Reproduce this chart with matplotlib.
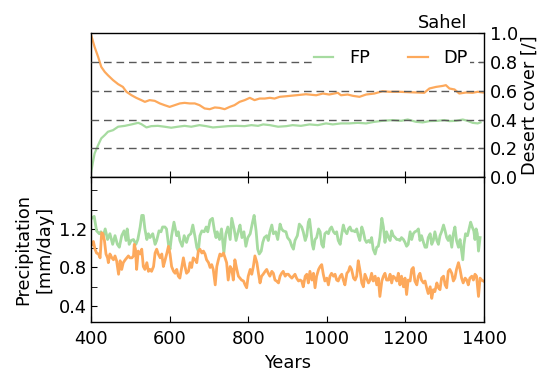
import numpy as np
import matplotlib
matplotlib.use("Agg")
import matplotlib.pyplot as plt
from matplotlib.ticker import FixedLocator

# ---------------- data ----------------
# Desert cover (top panel)
dp_cover_years = [400, 409, 418, 426, 435, 443, 456, 469, 481, 490, 503, 515, 528, 537, 549, 562,
                  575, 587, 600, 613, 626, 638, 651, 664, 676, 689, 702, 715, 727, 740, 753, 765,
                  778, 791, 804, 816, 829, 842, 855, 867, 880, 896, 922, 947, 973, 990, 1006,
                  1028, 1036, 1053, 1066, 1083, 1100, 1121, 1142, 1159, 1185, 1210, 1231, 1248,
                  1261, 1278, 1295, 1303, 1312, 1325, 1337, 1354, 1371, 1384, 1397]
dp_cover = [0.99, 0.905, 0.836, 0.766, 0.731, 0.708, 0.674, 0.646, 0.627, 0.593, 0.569, 0.551,
            0.535, 0.523, 0.535, 0.530, 0.512, 0.500, 0.488, 0.500, 0.512, 0.516, 0.512, 0.512,
            0.500, 0.477, 0.472, 0.484, 0.481, 0.472, 0.488, 0.500, 0.523, 0.535, 0.551, 0.535,
            0.546, 0.546, 0.551, 0.546, 0.558, 0.562, 0.569, 0.576, 0.569, 0.581, 0.574, 0.586,
            0.569, 0.574, 0.565, 0.558, 0.574, 0.581, 0.597, 0.593, 0.593, 0.590, 0.588, 0.586,
            0.616, 0.627, 0.634, 0.639, 0.616, 0.609, 0.581, 0.588, 0.586, 0.593, 0.588]

fp_cover_years = [400, 405, 409, 418, 426, 435, 443, 456, 469, 486, 503, 520, 528, 541, 553, 570,
                  587, 604, 621, 638, 655, 676, 693, 710, 732, 749, 770, 791, 808, 825, 838, 855,
                  876, 897, 913, 934, 956, 977, 998, 1015, 1036, 1057, 1079, 1100, 1121, 1142,
                  1168, 1189, 1206, 1227, 1244, 1261, 1282, 1299, 1312, 1329, 1346, 1358, 1371,
                  1384, 1391]
fp_cover = [0.03, 0.106, 0.164, 0.222, 0.269, 0.292, 0.315, 0.326, 0.350, 0.356, 0.366, 0.377,
            0.368, 0.345, 0.354, 0.356, 0.350, 0.343, 0.350, 0.356, 0.350, 0.361, 0.354, 0.345,
            0.350, 0.354, 0.356, 0.354, 0.361, 0.356, 0.366, 0.361, 0.350, 0.354, 0.361, 0.356,
            0.366, 0.361, 0.373, 0.366, 0.373, 0.373, 0.377, 0.373, 0.384, 0.391, 0.396, 0.391,
            0.400, 0.384, 0.380, 0.389, 0.391, 0.396, 0.389, 0.391, 0.400, 0.391, 0.377, 0.373,
            0.380]

# Precipitation (bottom panel)
fp_prec_years = [402, 408, 414, 421, 425, 430, 436, 442, 448, 455, 461, 467, 472, 478, 484, 489,
                 492, 497, 502, 508, 514, 519, 525, 529, 533, 537, 542, 546, 550, 557, 563, 567,
                 573, 578, 582, 588, 592, 597, 601, 605, 611, 618, 622, 626, 632, 637, 643, 648,
                 654, 659, 665, 669, 673, 677, 682, 688, 693, 697, 703, 709, 714, 718, 721, 727,
                 732, 738, 743, 748, 754, 758, 764, 769, 775, 779, 784, 789, 794, 799, 805, 811,
                 815, 820, 824, 828, 833, 837, 841, 847, 851, 855, 860, 864, 870, 875, 881, 885,
                 889, 896, 900, 906, 911, 915, 919, 925, 930,
                 936, 940, 945, 949, 953, 956, 959, 963, 966, 970, 974, 979, 983, 987, 991, 995,
                 1000, 1004, 1008, 1012, 1017, 1021, 1025, 1029, 1034, 1038, 1042, 1046, 1051,
                 1055, 1059, 1063, 1068, 1072, 1076, 1080, 1084, 1089, 1093, 1097, 1101, 1106,
                 1110, 1114, 1118, 1123, 1127, 1131, 1135, 1140, 1144, 1148, 1152, 1157, 1161,
                 1165, 1169, 1174, 1178, 1182, 1186, 1190, 1195, 1199, 1203, 1207, 1212, 1216,
                 1220, 1224, 1229, 1233, 1237, 1241, 1246, 1250, 1254, 1258, 1263, 1267, 1271,
                 1275, 1280, 1284, 1288, 1292, 1297, 1301, 1305, 1309, 1313, 1318, 1322, 1326,
                 1330, 1335, 1339, 1343, 1346, 1349, 1353, 1358, 1362, 1366, 1370, 1374, 1377,
                 1380, 1383, 1386, 1390]
fp_prec = [1.31, 1.33, 1.18, 1.15, 1.17, 1.11, 1.20, 1.09, 1.15, 1.04, 1.13, 1.04, 1.01, 1.13,
           1.18, 1.08, 1.20, 1.04, 1.08, 1.09, 1.04, 1.09, 1.22, 1.34, 1.34, 1.20, 1.09, 1.15,
           1.11, 1.15, 1.04, 1.08, 1.18, 1.17, 1.22, 1.22, 1.20, 1.04, 0.99, 1.13, 1.27, 1.13,
           1.17, 1.08, 1.02, 1.13, 1.06, 1.13, 1.15, 1.24, 1.11, 1.01, 0.97, 1.13, 1.18, 1.17,
           1.22, 1.17, 1.29, 1.31, 1.18, 1.11, 1.17, 1.09, 1.20, 0.95, 1.15, 1.22, 1.09, 1.31,
           1.20, 1.08, 1.18, 1.24, 1.11, 1.17, 1.02, 1.11, 1.15, 1.27, 1.34, 1.18, 0.99, 0.94,
           0.97, 1.06, 1.11, 1.13, 1.08, 1.17, 1.24, 1.15, 1.17, 1.09, 1.25, 1.20, 1.18, 1.17,
           1.11, 1.08, 1.02, 0.99, 1.08, 1.13, 1.25,
           1.22, 1.17, 1.08, 1.13, 1.27, 1.30, 1.20, 1.04, 0.99, 1.09, 1.11, 1.20, 1.17, 1.04,
           1.01, 1.15, 1.17, 1.15, 1.20, 1.22, 1.17, 1.15, 1.17, 1.08, 1.04, 1.15, 1.24, 1.18,
           1.15, 1.20, 1.22, 1.18, 1.18, 1.17, 1.20, 1.13, 1.08, 1.22, 1.17, 1.09, 1.06, 1.08,
           1.06, 1.11, 0.99, 0.94, 1.01, 1.02, 1.11, 1.31, 1.22, 1.06, 1.17, 1.11, 1.08, 1.18,
           1.13, 1.11, 1.09, 1.09, 1.08, 1.11, 1.09, 1.06, 1.02, 1.04, 1.17, 1.09, 1.15, 1.17,
           1.18, 1.20, 1.08, 1.13, 1.06, 1.01, 1.01, 1.11, 1.15, 1.04, 1.08, 1.17, 1.08, 1.04,
           1.13, 1.17, 1.24, 1.18, 1.11, 1.08, 1.13, 1.01, 1.15, 1.22, 1.08, 1.01, 1.09, 0.97,
           0.88, 1.04, 1.15, 1.13, 1.20, 1.27, 1.22, 1.18, 1.09, 1.20, 1.15, 0.97, 1.11]

dp_prec_years = [402, 406, 410, 414, 419, 423, 427, 430, 434, 438, 442, 444, 448, 453, 457, 461,
                 465, 470, 474, 478, 482, 487, 491, 495, 499, 504, 508, 510, 513, 516, 520, 525,
                 529, 533, 537, 542, 546, 550, 554, 559, 563, 567, 571, 576, 580, 584, 588, 593,
                 597, 601, 605, 610, 614, 618, 622, 626, 631, 635, 639, 643, 648, 652, 656, 660,
                 665, 669, 673, 677, 682, 686, 690, 694, 699, 703, 707, 711, 716, 720, 724, 728,
                 732, 737, 741, 745, 749, 754, 758, 762, 766, 771, 775, 779, 783, 788, 792, 796,
                 800, 805, 809, 813, 817, 822, 826, 830, 834, 838, 843, 847, 851, 855, 860, 864,
                 868, 872, 877, 881, 885, 889, 894, 898, 902, 906, 911, 915, 919, 923, 928, 932,
                 936, 940, 945, 949, 953, 957, 962, 966, 970, 974, 979, 983, 987, 991, 995, 1000,
                 1004, 1008, 1012, 1017, 1021, 1025, 1029, 1034, 1038, 1042, 1046, 1051, 1055,
                 1059, 1063, 1068, 1072, 1076, 1080, 1084, 1089, 1093, 1097, 1101, 1106, 1110,
                 1114, 1118, 1123, 1127, 1131, 1135, 1140, 1144, 1148, 1152, 1157, 1161, 1165,
                 1169, 1174, 1178, 1182, 1186, 1190, 1195, 1199, 1203, 1207, 1212, 1216, 1220,
                 1224, 1229, 1233, 1237, 1241, 1246, 1250, 1254, 1258, 1263, 1267, 1271, 1275,
                 1280, 1284, 1288, 1292, 1297, 1301, 1305, 1309, 1313, 1318, 1322, 1326, 1330,
                 1335, 1339, 1343, 1347, 1352, 1356, 1360, 1364, 1369, 1373, 1377, 1381, 1386,
                 1390, 1394, 1398]
dp_prec = [1.04, 1.07, 0.99, 0.95, 0.94, 0.90, 1.16, 1.15, 1.08, 0.94, 0.90, 0.85, 0.94, 0.90,
           0.88, 0.92, 0.87, 0.73, 0.87, 0.78, 0.85, 0.88, 0.90, 0.92, 0.90, 0.90, 0.92, 1.04,
           0.99, 0.78, 0.97, 0.94, 0.99, 0.81, 0.78, 0.85, 0.76, 0.78, 0.76, 0.81, 0.95, 0.99,
           0.94, 0.90, 0.94, 0.81, 0.87, 0.95, 1.02, 0.94, 0.81, 0.76, 0.74, 0.78, 0.71, 0.69,
           0.81, 0.90, 0.81, 0.74, 0.76, 0.85, 0.80, 0.90, 0.88, 0.85, 0.97, 0.99, 0.95, 0.97,
           0.94, 0.88, 0.85, 0.80, 0.83, 0.78, 0.62, 0.81, 0.88, 0.94, 0.92, 0.95, 0.90, 0.85,
           0.67, 0.81, 0.78, 0.67, 0.88, 0.78, 0.71, 0.69, 0.67, 0.66, 0.62, 0.59, 0.71, 0.78,
           0.73, 0.81, 0.92, 0.85, 0.74, 0.64, 0.71, 0.73, 0.76, 0.78, 0.74, 0.71, 0.76, 0.74,
           0.67, 0.66, 0.64, 0.71, 0.74, 0.76, 0.71, 0.73, 0.73, 0.71, 0.69, 0.71, 0.73, 0.69,
           0.66, 0.67,
           0.66, 0.60, 0.71, 0.73, 0.64, 0.76, 0.67, 0.74, 0.59, 0.71, 0.78, 0.81, 0.83, 0.73,
           0.66, 0.69, 0.62, 0.71, 0.74, 0.71, 0.73, 0.67, 0.66, 0.71, 0.73, 0.67, 0.62, 0.74,
           0.76, 0.81, 0.78, 0.69, 0.67, 0.71, 0.87, 0.78, 0.64, 0.60, 0.73, 0.69, 0.64, 0.67,
           0.74, 0.66, 0.71, 0.62, 0.69, 0.50, 0.66, 0.71, 0.74, 0.67, 0.67, 0.73, 0.64, 0.71,
           0.69, 0.66, 0.74, 0.62, 0.71, 0.60, 0.69, 0.52, 0.67, 0.66, 0.78, 0.80, 0.66, 0.62,
           0.71, 0.74, 0.67, 0.64, 0.66, 0.59, 0.53, 0.60, 0.48, 0.57, 0.55, 0.64, 0.59, 0.57,
           0.69, 0.71, 0.62, 0.59, 0.76, 0.78, 0.74, 0.66, 0.69, 0.78, 0.85, 0.78, 0.69, 0.64,
           0.69, 0.67, 0.62, 0.69, 0.71, 0.67, 0.73, 0.71, 0.50, 0.69, 0.67, 0.66]

year_ticks = [400, 600, 800, 1000, 1200, 1400]
cover_ticks = [0.0, 0.2, 0.4, 0.6, 0.8, 1.0]
cover_grid = [0.2, 0.4, 0.6, 0.8]
prec_major_ticks = [0.4, 0.8, 1.2]
prec_minor_ticks = [0.6, 1.0, 1.4, 1.6]

GREEN = "#a6dba0"
ORANGE = "#fda95c"

# ---------------- style ----------------
plt.rcParams.update({
    "font.family": ["DejaVu Sans"],
    "font.size": 12.75,
    "axes.linewidth": 1.0,
    "xtick.direction": "in",
    "ytick.direction": "in",
    "xtick.major.size": 4,
    "ytick.major.size": 4,
    "xtick.minor.size": 4,
    "ytick.minor.size": 4,
    "xtick.major.pad": 6,
    "ytick.major.pad": 3,
})

fig = plt.figure(figsize=(5.42, 3.68), dpi=100)
ax1 = fig.add_axes([0.168, 0.519, 0.725, 0.3905])
ax2 = fig.add_axes([0.168, 0.125, 0.725, 0.394])

# top panel
ax1.plot(fp_cover_years, fp_cover, color=GREEN, lw=1.6, label="FP", zorder=2)
ax1.plot(dp_cover_years, dp_cover, color=ORANGE, lw=1.6, label="DP", zorder=2)
for lvl in cover_grid:
    ax1.axhline(lvl, color="0.35", lw=1.0, dashes=(5.5, 3.5), zorder=3)
ax1.set_xlim(year_ticks[0], year_ticks[-1])
ax1.set_ylim(cover_ticks[0], cover_ticks[-1])
ax1.set_xticks(year_ticks)
ax1.xaxis.tick_bottom()
ax1.tick_params(axis="x", labelbottom=False)
ax1.yaxis.tick_right()
ax1.tick_params(axis="y", pad=4)
ax1.yaxis.set_label_position("right")
ax1.set_yticks(cover_ticks)
ax1.set_ylabel("Desert cover [/]", labelpad=2)
leg = ax1.legend(loc="upper right", ncol=2, frameon=True, framealpha=1.0,
                 handlelength=1.1, handletextpad=0.9, columnspacing=2.15,
                 borderaxespad=0.8, borderpad=0.1)
leg.get_frame().set_edgecolor("none")
leg.get_frame().set_facecolor("white")
leg.set_zorder(5)
ax1.text(0.957, 1.037, "Sahel", transform=ax1.transAxes, ha="right", va="baseline")

# bottom panel
ax2.plot(fp_prec_years, fp_prec, color=GREEN, lw=2.0)
ax2.plot(dp_prec_years, dp_prec, color=ORANGE, lw=2.0)
ax2.set_xlim(year_ticks[0], year_ticks[-1])
ax2.set_ylim(0.235, 1.738)
ax2.set_xticks(year_ticks)
ax2.tick_params(axis="x", top=True, bottom=True)
ax2.yaxis.tick_left()
ax2.yaxis.set_major_locator(FixedLocator(prec_major_ticks))
ax2.yaxis.set_minor_locator(FixedLocator(prec_minor_ticks))
ax2.set_yticklabels([f"{t:.1f}" for t in prec_major_ticks])
ax2.set_xlabel("Years")
ax2.set_ylabel("Precipitation\n[mm/day]")

fig.savefig("out.png", dpi=100)
